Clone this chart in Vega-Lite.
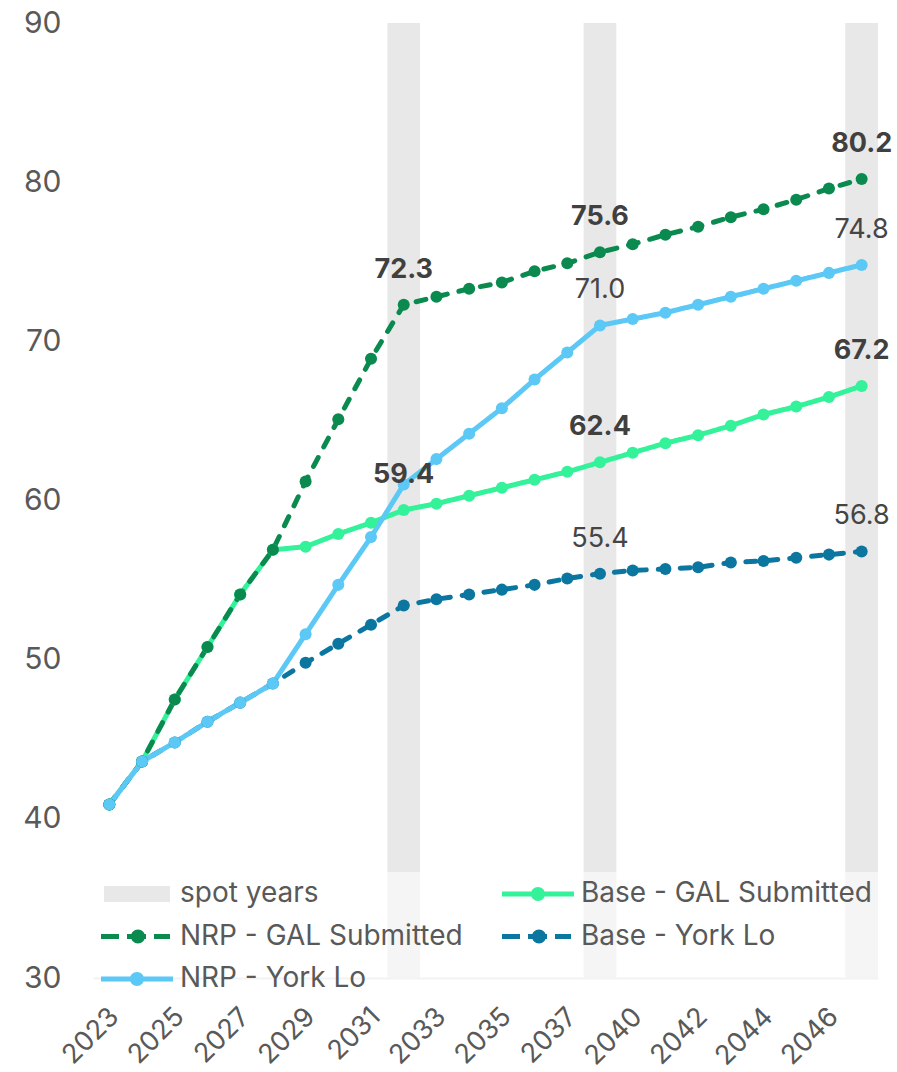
{
  "$schema": "https://vega.github.io/schema/vega-lite/v6.json",
  "width": 785,
  "height": 955,
  "autosize": {"type": "none"},
  "padding": {"left": 93, "top": 23, "right": 19, "bottom": 94},
  "background": "white",
  "config": {
    "font": "Inter",
    "view": {"stroke": null}
  },
  "datasets": {
    "spot": [
      {"year": "2032"}, {"year": "2038"}, {"year": "2047"}
    ],
    "series": [
      {"series": "Base - GAL Submitted", "year": "2023", "value": 40.9},
      {"series": "Base - GAL Submitted", "year": "2024", "value": 43.6},
      {"series": "Base - GAL Submitted", "year": "2025", "value": 47.5},
      {"series": "Base - GAL Submitted", "year": "2026", "value": 50.8},
      {"series": "Base - GAL Submitted", "year": "2027", "value": 54.1},
      {"series": "Base - GAL Submitted", "year": "2028", "value": 56.9},
      {"series": "Base - GAL Submitted", "year": "2029", "value": 57.1},
      {"series": "Base - GAL Submitted", "year": "2030", "value": 57.9},
      {"series": "Base - GAL Submitted", "year": "2031", "value": 58.6},
      {"series": "Base - GAL Submitted", "year": "2032", "value": 59.4},
      {"series": "Base - GAL Submitted", "year": "2033", "value": 59.8},
      {"series": "Base - GAL Submitted", "year": "2034", "value": 60.3},
      {"series": "Base - GAL Submitted", "year": "2035", "value": 60.8},
      {"series": "Base - GAL Submitted", "year": "2036", "value": 61.3},
      {"series": "Base - GAL Submitted", "year": "2037", "value": 61.8},
      {"series": "Base - GAL Submitted", "year": "2038", "value": 62.4},
      {"series": "Base - GAL Submitted", "year": "2040", "value": 63.0},
      {"series": "Base - GAL Submitted", "year": "2041", "value": 63.6},
      {"series": "Base - GAL Submitted", "year": "2042", "value": 64.1},
      {"series": "Base - GAL Submitted", "year": "2043", "value": 64.7},
      {"series": "Base - GAL Submitted", "year": "2044", "value": 65.4},
      {"series": "Base - GAL Submitted", "year": "2045", "value": 65.9},
      {"series": "Base - GAL Submitted", "year": "2046", "value": 66.5},
      {"series": "Base - GAL Submitted", "year": "2047", "value": 67.2},
      {"series": "NRP - GAL Submitted", "year": "2023", "value": 40.9},
      {"series": "NRP - GAL Submitted", "year": "2024", "value": 43.6},
      {"series": "NRP - GAL Submitted", "year": "2025", "value": 47.5},
      {"series": "NRP - GAL Submitted", "year": "2026", "value": 50.8},
      {"series": "NRP - GAL Submitted", "year": "2027", "value": 54.1},
      {"series": "NRP - GAL Submitted", "year": "2028", "value": 56.9},
      {"series": "NRP - GAL Submitted", "year": "2029", "value": 61.2},
      {"series": "NRP - GAL Submitted", "year": "2030", "value": 65.1},
      {"series": "NRP - GAL Submitted", "year": "2031", "value": 68.9},
      {"series": "NRP - GAL Submitted", "year": "2032", "value": 72.3},
      {"series": "NRP - GAL Submitted", "year": "2033", "value": 72.8},
      {"series": "NRP - GAL Submitted", "year": "2034", "value": 73.3},
      {"series": "NRP - GAL Submitted", "year": "2035", "value": 73.7},
      {"series": "NRP - GAL Submitted", "year": "2036", "value": 74.4},
      {"series": "NRP - GAL Submitted", "year": "2037", "value": 74.9},
      {"series": "NRP - GAL Submitted", "year": "2038", "value": 75.6},
      {"series": "NRP - GAL Submitted", "year": "2040", "value": 76.1},
      {"series": "NRP - GAL Submitted", "year": "2041", "value": 76.7},
      {"series": "NRP - GAL Submitted", "year": "2042", "value": 77.2},
      {"series": "NRP - GAL Submitted", "year": "2043", "value": 77.8},
      {"series": "NRP - GAL Submitted", "year": "2044", "value": 78.3},
      {"series": "NRP - GAL Submitted", "year": "2045", "value": 78.9},
      {"series": "NRP - GAL Submitted", "year": "2046", "value": 79.6},
      {"series": "NRP - GAL Submitted", "year": "2047", "value": 80.2},
      {"series": "Base - York Lo", "year": "2023", "value": 40.9},
      {"series": "Base - York Lo", "year": "2024", "value": 43.6},
      {"series": "Base - York Lo", "year": "2025", "value": 44.8},
      {"series": "Base - York Lo", "year": "2026", "value": 46.1},
      {"series": "Base - York Lo", "year": "2027", "value": 47.3},
      {"series": "Base - York Lo", "year": "2028", "value": 48.5},
      {"series": "Base - York Lo", "year": "2029", "value": 49.8},
      {"series": "Base - York Lo", "year": "2030", "value": 51.0},
      {"series": "Base - York Lo", "year": "2031", "value": 52.2},
      {"series": "Base - York Lo", "year": "2032", "value": 53.4},
      {"series": "Base - York Lo", "year": "2033", "value": 53.8},
      {"series": "Base - York Lo", "year": "2034", "value": 54.1},
      {"series": "Base - York Lo", "year": "2035", "value": 54.4},
      {"series": "Base - York Lo", "year": "2036", "value": 54.7},
      {"series": "Base - York Lo", "year": "2037", "value": 55.1},
      {"series": "Base - York Lo", "year": "2038", "value": 55.4},
      {"series": "Base - York Lo", "year": "2040", "value": 55.6},
      {"series": "Base - York Lo", "year": "2041", "value": 55.7},
      {"series": "Base - York Lo", "year": "2042", "value": 55.8},
      {"series": "Base - York Lo", "year": "2043", "value": 56.1},
      {"series": "Base - York Lo", "year": "2044", "value": 56.2},
      {"series": "Base - York Lo", "year": "2045", "value": 56.4},
      {"series": "Base - York Lo", "year": "2046", "value": 56.6},
      {"series": "Base - York Lo", "year": "2047", "value": 56.8},
      {"series": "NRP - York Lo", "year": "2023", "value": 40.9},
      {"series": "NRP - York Lo", "year": "2024", "value": 43.6},
      {"series": "NRP - York Lo", "year": "2025", "value": 44.8},
      {"series": "NRP - York Lo", "year": "2026", "value": 46.1},
      {"series": "NRP - York Lo", "year": "2027", "value": 47.3},
      {"series": "NRP - York Lo", "year": "2028", "value": 48.5},
      {"series": "NRP - York Lo", "year": "2029", "value": 51.6},
      {"series": "NRP - York Lo", "year": "2030", "value": 54.7},
      {"series": "NRP - York Lo", "year": "2031", "value": 57.7},
      {"series": "NRP - York Lo", "year": "2032", "value": 61.0},
      {"series": "NRP - York Lo", "year": "2033", "value": 62.6},
      {"series": "NRP - York Lo", "year": "2034", "value": 64.2},
      {"series": "NRP - York Lo", "year": "2035", "value": 65.8},
      {"series": "NRP - York Lo", "year": "2036", "value": 67.6},
      {"series": "NRP - York Lo", "year": "2037", "value": 69.3},
      {"series": "NRP - York Lo", "year": "2038", "value": 71.0},
      {"series": "NRP - York Lo", "year": "2040", "value": 71.4},
      {"series": "NRP - York Lo", "year": "2041", "value": 71.8},
      {"series": "NRP - York Lo", "year": "2042", "value": 72.3},
      {"series": "NRP - York Lo", "year": "2043", "value": 72.8},
      {"series": "NRP - York Lo", "year": "2044", "value": 73.3},
      {"series": "NRP - York Lo", "year": "2045", "value": 73.8},
      {"series": "NRP - York Lo", "year": "2046", "value": 74.3},
      {"series": "NRP - York Lo", "year": "2047", "value": 74.8}
    ]
  },
  "encoding": {
    "x": {
      "field": "year",
      "type": "ordinal",
      "scale": {
        "domain": ["2023","2024","2025","2026","2027","2028","2029","2030","2031","2032","2033","2034","2035","2036","2037","2038","2040","2041","2042","2043","2044","2045","2046","2047"],
        "paddingInner": 0,
        "paddingOuter": 0
      },
      "axis": {
        "title": null,
        "values": ["2023","2025","2027","2029","2031","2033","2035","2037","2040","2042","2044","2046"],
        "labelAngle": -45,
        "labelFontSize": 27,
        "labelColor": "#595959",
        "labelPadding": 25,
        "labelOffset": -4,
        "ticks": false,
        "tickSize": 0,
        "grid": false,
        "domainColor": "#e3e3e3",
        "domainWidth": 2
      }
    }
  },
  "layer": [
    {
      "data": {"name": "spot"},
      "mark": {"type": "bar", "color": "#e8e8e8"},
      "encoding": {
        "y": {"datum": 90, "type": "quantitative"},
        "y2": {"datum": 30}
      }
    },
    {
      "data": {"name": "series"},
      "mark": {"type": "line", "strokeWidth": 5, "strokeCap": "round"},
      "encoding": {
        "y": {
          "field": "value",
          "type": "quantitative",
          "scale": {"domain": [30, 90], "nice": false, "zero": false},
          "axis": {
            "title": null,
            "values": [30, 40, 50, 60, 70, 80, 90],
            "labelFontSize": 30,
            "labelColor": "#595959",
            "labelPadding": 32,
            "ticks": false,
            "tickSize": 0,
            "domain": false,
            "grid": false
          }
        },
        "color": {
          "field": "series",
          "type": "nominal",
          "scale": {
            "domain": ["Base - GAL Submitted", "NRP - GAL Submitted", "Base - York Lo", "NRP - York Lo"],
            "range": ["#33F29A", "#0A8A4F", "#0B769F", "#5BC8F5"]
          },
          "legend": null
        },
        "strokeDash": {
          "field": "series",
          "type": "nominal",
          "scale": {
            "domain": ["Base - GAL Submitted", "NRP - GAL Submitted", "Base - York Lo", "NRP - York Lo"],
            "range": [[1, 0], [10, 12], [10, 12], [1, 0]]
          },
          "legend": null
        }
      }
    },
    {
      "data": {"name": "series"},
      "mark": {"type": "point", "filled": true, "size": 145, "opacity": 1},
      "encoding": {
        "y": {"field": "value", "type": "quantitative"},
        "color": {"field": "series", "type": "nominal", "legend": null}
      }
    },
    {
      "data": {"name": "series"},
      "transform": [
        {"filter": "indexof(['2032','2038','2047'], datum.year) >= 0 && indexof(datum.series, 'GAL') >= 0"}
      ],
      "mark": {"type": "text", "fontSize": 27, "fontWeight": 700, "color": "#404040", "dy": -27, "baseline": "alphabetic", "align": "center"},
      "encoding": {
        "y": {"field": "value", "type": "quantitative"},
        "text": {"field": "value", "type": "quantitative", "format": ".1f"}
      }
    },
    {
      "data": {"name": "series"},
      "transform": [
        {"filter": "indexof(['2038','2047'], datum.year) >= 0 && indexof(datum.series, 'York') >= 0"}
      ],
      "mark": {"type": "text", "fontSize": 27, "fontWeight": 400, "color": "#454545", "dy": -27, "baseline": "alphabetic", "align": "center"},
      "encoding": {
        "y": {"field": "value", "type": "quantitative"},
        "text": {"field": "value", "type": "quantitative", "format": ".1f"}
      }
    },
    {
      "data": {"name": "series"},
      "transform": [{"filter": "false"}],
      "mark": {"type": "point", "filled": true, "opacity": 1},
      "encoding": {
        "fill": {
          "field": "series",
          "type": "nominal",
          "scale": {
            "domain": ["spot years", "NRP - GAL Submitted", "NRP - York Lo", "Base - GAL Submitted", "Base - York Lo"],
            "range": ["#e8e8e8", "#0A8A4F", "#5BC8F5", "#33F29A", "#0B769F"]
          },
          "legend": {
            "title": null,
            "orient": "none",
            "legendX": 0,
            "legendY": 849,
            "columns": 2,
            "gridAlign": "all",
            "padding": 8,
            "fillColor": "rgba(255,255,255,0.55)",
            "symbolSize": 400,
            "symbolOffset": 22,
            "symbolStrokeWidth": 0,
            "labelFontSize": 28,
            "labelColor": "#595959",
            "labelLimit": 400,
            "labelOffset": 29,
            "rowPadding": 14.5,
            "columnPadding": 31
          }
        },
        "shape": {
          "field": "series",
          "type": "nominal",
          "scale": {
            "domain": ["spot years", "NRP - GAL Submitted", "NRP - York Lo", "Base - GAL Submitted", "Base - York Lo"],
            "range": [
              "M-3.3,-0.8H3.3V0.8H-3.3Z",
              "M-3.6,-0.25H-1.8V0.25H-3.6Z M-1,-0.25H0.9V0.25H-1Z M1.7,-0.25H3.3V0.25H1.7Z M-0.6,0A0.7,0.7,0,1,1,0.8,0A0.7,0.7,0,1,1,-0.6,0Z",
              "M-3.6,-0.25H3.6V0.25H-3.6Z M-0.7,0A0.7,0.7,0,1,1,0.7,0A0.7,0.7,0,1,1,-0.7,0Z",
              "M-3.6,-0.25H3.6V0.25H-3.6Z M-0.7,0A0.7,0.7,0,1,1,0.7,0A0.7,0.7,0,1,1,-0.7,0Z",
              "M-3.6,-0.25H-1.8V0.25H-3.6Z M-1,-0.25H0.9V0.25H-1Z M1.7,-0.25H3.3V0.25H1.7Z M-0.6,0A0.7,0.7,0,1,1,0.8,0A0.7,0.7,0,1,1,-0.6,0Z"
            ]
          },
          "legend": {
            "title": null,
            "orient": "none",
            "legendX": 0,
            "legendY": 849,
            "columns": 2,
            "gridAlign": "all",
            "padding": 8,
            "fillColor": "rgba(255,255,255,0.55)",
            "symbolSize": 400,
            "symbolOffset": 22,
            "symbolStrokeWidth": 0,
            "labelFontSize": 28,
            "labelColor": "#595959",
            "labelLimit": 400,
            "labelOffset": 29,
            "rowPadding": 14.5,
            "columnPadding": 31
          }
        }
      }
    }
  ]
}
